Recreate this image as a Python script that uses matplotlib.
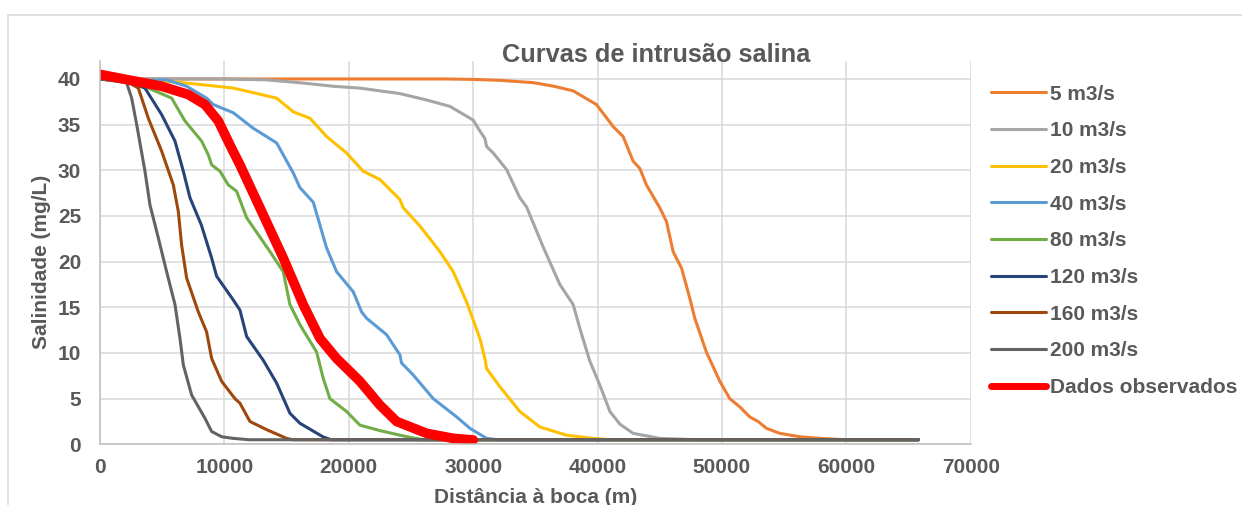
import matplotlib
matplotlib.use("Agg")
import matplotlib.pyplot as plt
from matplotlib.patches import Rectangle

plt.rcParams['font.family'] = ['Liberation Sans', 'DejaVu Sans']
plt.rcParams['font.weight'] = 'bold'

TEXT = '#595959'

# distance from the mouth (m) and salinity (mg/L) for each river discharge
x_5 = [0, 5000, 10000, 15000, 20000, 25000, 28000, 30000, 32150, 34825, 36500, 38040,
       39910, 41250, 42055, 42860, 43400, 43930, 45000, 45540, 46075, 46750, 47415,
       47820, 48750, 49830, 50630, 51435, 52240, 52910, 53580, 54650, 56260, 57865,
       60000, 65800]
y_5 = [40, 40, 40, 40, 40, 40, 40, 39.95, 39.85, 39.6, 39.2, 38.7, 37.2, 34.8, 33.7,
       31.0, 30.2, 28.4, 25.9, 24.4, 21.1, 19.3, 16.0, 13.8, 10.1, 6.9, 5.0, 4.1, 3.0,
       2.5, 1.75, 1.2, 0.83, 0.65, 0.5, 0.5]

x_10 = [0, 5000, 10000, 13400, 16000, 18750, 20895, 22500, 24110, 26255, 28130, 30000,
        30540, 30940, 31080, 31610, 32680, 33750, 34290, 35630, 36970, 38040, 38576,
        39380, 40180, 40990, 41800, 42860, 45000, 48000, 65800]
y_10 = [40, 40, 40, 39.9, 39.6, 39.2, 39.0, 38.7, 38.4, 37.7, 37.0, 35.5, 34.3, 33.5,
        32.6, 31.9, 30.1, 27.0, 26.0, 21.6, 17.5, 15.3, 12.7, 9.1, 6.5, 3.6, 2.2, 1.2,
        0.65, 0.5, 0.5]

x_20 = [0, 2680, 5000, 8037, 10715, 12320, 14200, 15540, 16877, 18217, 19820, 21160,
        22500, 24110, 24380, 25720, 27325, 28395, 29470, 30540, 30940, 31080, 32150,
        33750, 35360, 37505, 39645, 41000, 65800]
y_20 = [40, 40.0, 39.8, 39.4, 39.0, 38.5, 37.9, 36.4, 35.7, 33.7, 31.9, 29.9, 29.0,
        26.8, 25.9, 23.9, 21.1, 18.9, 15.6, 11.6, 9.4, 8.3, 6.3, 3.6, 1.9, 1.0, 0.65,
        0.5, 0.5]

x_40 = [0, 2500, 5360, 6965, 8572, 9108, 10715, 12320, 14200, 15540, 16073, 17146,
        18217, 19020, 20360, 21030, 21430, 23040, 24110, 24245, 25175, 26790, 28670,
        29740, 31080, 32000, 65800]
y_40 = [40, 39.9, 39.9, 39.2, 37.9, 37.2, 36.3, 34.6, 33.0, 29.7, 28.1, 26.5, 21.5,
        18.9, 16.7, 14.5, 13.8, 12.0, 9.8, 8.9, 7.6, 5.0, 3.0, 1.75, 0.65, 0.5, 0.5]

x_80 = [0, 2200, 3884, 5760, 6832, 8170, 8706, 8975, 9644, 10313, 10985, 11790, 13662,
        14732, 15270, 16073, 17415, 17950, 18484, 19820, 20895, 22500, 24110, 25150,
        26000, 65800]
y_80 = [40, 39.7, 39.0, 37.9, 35.4, 33.2, 31.7, 30.6, 29.9, 28.4, 27.7, 24.8, 21.1,
        18.9, 15.3, 13.1, 10.1, 7.2, 5.0, 3.6, 2.1, 1.5, 1.0, 0.7, 0.5, 0.5]

x_120 = [0, 2200, 3616, 4955, 6027, 6698, 7232, 8150, 8975, 9377, 10715, 11250, 11790,
         13125, 14200, 15270, 16073, 17950, 18600, 65800]
y_120 = [40, 39.7, 39.0, 36.1, 33.2, 29.9, 27.0, 24.0, 20.4, 18.4, 15.8, 14.7, 11.8,
         9.2, 6.7, 3.4, 2.3, 0.8, 0.5, 0.5]

x_160 = [0, 2200, 3080, 3884, 4955, 5894, 6296, 6563, 6965, 7903, 8572, 8975, 9778,
         10850, 11250, 12055, 13400, 15000, 15500, 65800]
y_160 = [40, 39.7, 39.0, 35.7, 32.1, 28.4, 25.5, 21.8, 18.2, 14.5, 12.3, 9.4, 6.9, 5.0,
         4.5, 2.5, 1.6, 0.65, 0.5, 0.5]

x_200 = [0, 2140, 2545, 2950, 3616, 4018, 4688, 5356, 6027, 6430, 6698, 7366, 8438,
         8975, 9778, 10700, 12000, 65800]
y_200 = [40, 39.6, 37.9, 35.0, 29.9, 26.2, 22.6, 18.9, 15.3, 11.6, 8.7, 5.4, 2.85, 1.4,
         0.83, 0.65, 0.5, 0.5]

x_obs = [0, 2277, 4955, 7096, 8438, 9510, 10582, 11251, 12858, 14732, 16338, 17680,
         19020, 20895, 22500, 23845, 26255, 28400, 30000]
y_obs = [40.5, 39.9, 39.2, 38.3, 37.2, 35.4, 32.4, 30.6, 25.9, 20.4, 15.3, 11.6, 9.4,
         6.9, 4.3, 2.5, 1.2, 0.65, 0.47]

labels = ['5 m3/s', '10 m3/s', '20 m3/s', '40 m3/s', '80 m3/s', '120 m3/s',
          '160 m3/s', '200 m3/s', 'Dados observados']
colors = ['#ED7D31', '#A5A5A5', '#FFC000', '#5B9BD5', '#70AD47', '#264478',
          '#9E480E', '#636363', '#FF0000']

series = [(x_5, y_5), (x_10, y_10), (x_20, y_20), (x_40, y_40), (x_80, y_80),
          (x_120, y_120), (x_160, y_160), (x_200, y_200), (x_obs, y_obs)]

fig = plt.figure(figsize=(12.42, 5.05), dpi=100)
ax = fig.add_axes([100 / 1242, 60.7 / 505, 870.7 / 1242, 383.6 / 505])

for (xs, ys), lab, col in zip(series, labels, colors):
    lw = 7 if lab == 'Dados observados' else 2.2
    ax.plot(xs, ys, color=col, lw=lw, label=lab,
            solid_capstyle='round', solid_joinstyle='round')

ax.set_xlim(0, 70000)
ax.set_ylim(0, 42)
ax.set_xticks(range(0, 70001, 10000))
ax.set_yticks(range(0, 41, 5))
ax.grid(True, color='#D9D9D9', lw=1.1)
ax.set_axisbelow(True)
for side in ['top', 'right']:
    ax.spines[side].set_visible(False)
for side in ['left', 'bottom']:
    ax.spines[side].set_color('#BFBFBF')
    ax.spines[side].set_linewidth(1.1)
ax.tick_params(axis='both', length=0, labelsize=15, labelcolor=TEXT)
ax.tick_params(axis='y', pad=13.5)
ax.tick_params(axis='x', pad=10)
for t in ax.get_xticklabels() + ax.get_yticklabels():
    t.set_fontweight('bold')

fig.text(656 / 1242, (505 - 62) / 505, 'Curvas de intrusão salina', ha='center',
         va='baseline', fontsize=18.3, fontweight='bold', color=TEXT)
fig.text(42 / 1242, (505 - 262) / 505, 'Salinidade (mg/L)', rotation=90, ha='center',
         va='center', fontsize=15, fontweight='bold', color=TEXT)
fig.text(535.5 / 1242, 2 / 505, 'Distância à boca (m)', ha='center', va='baseline',
         fontsize=15, fontweight='bold', color=TEXT)

leg = fig.legend(loc='upper left', bbox_to_anchor=(991 / 1242, (505 - 84.5) / 505),
                 frameon=False, fontsize=15, handlelength=2.64, handletextpad=0.2,
                 labelspacing=0.85, borderpad=0, borderaxespad=0)
for t in leg.get_texts():
    t.set_color(TEXT)
    t.set_fontweight('bold')
leg.get_lines()[-1].set_linewidth(5)

# outer chart frame
fig.patches.append(Rectangle((8 / 1242, -0.2), 1.2, 0.2 + (505 - 15) / 505,
                             transform=fig.transFigure, fill=False,
                             edgecolor='#D9D9D9', lw=1.1))

fig.savefig('out.png', dpi=100)
